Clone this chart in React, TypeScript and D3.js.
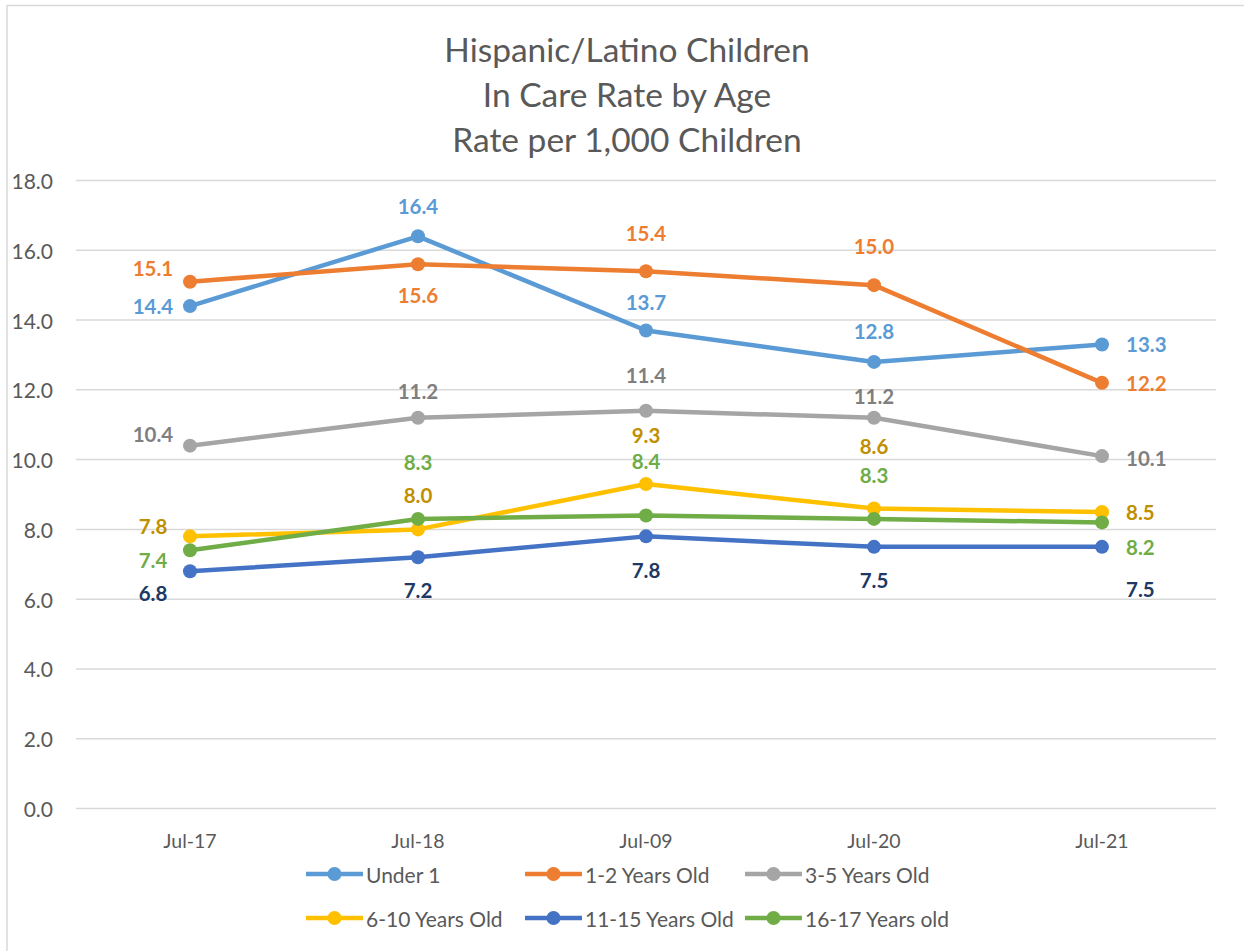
import React from "react";
import * as d3 from "d3";

const categories = ["Jul-17", "Jul-18", "Jul-09", "Jul-20", "Jul-21"];
const seriesNames = ["Under 1", "1-2 Years Old", "3-5 Years Old", "6-10 Years Old", "11-15 Years Old", "16-17 Years old"];
const under1 = [14.4, 16.4, 13.7, 12.8, 13.3];
const years1to2 = [15.1, 15.6, 15.4, 15.0, 12.2];
const years3to5 = [10.4, 11.2, 11.4, 11.2, 10.1];
const years6to10 = [7.8, 8.0, 9.3, 8.6, 8.5];
const years11to15 = [6.8, 7.2, 7.8, 7.5, 7.5];
const years16to17 = [7.4, 8.3, 8.4, 8.3, 8.2];
const yTicks = [0, 2, 4, 6, 8, 10, 12, 14, 16, 18];
const titleLines = ["Hispanic/Latino Children", "In Care Rate by Age", "Rate per 1,000 Children"];

const seriesValues = [under1, years1to2, years3to5, years6to10, years11to15, years16to17];
const lineColors = ["#5B9BD5", "#ED7D31", "#A5A5A5", "#FFC000", "#4472C4", "#70AD47"];
const labelColors = ["#5B9BD5", "#ED7D31", "#7F7F7F", "#BF9000", "#203864", "#70AD47"];
// label offsets [dx, dy] relative to the point (manual placement as in reference)
const labelOffsets: number[][][] = [
  [[-37, 0], [0, -30], [0, -29], [0, -31], [24, 0]],
  [[-37, -14], [0, 31], [0, -38], [0, -39], [24, 0]],
  [[-37, -12], [0, -27], [0, -36], [0, -22], [24, 2]],
  [[-37, -10], [0, -34], [0, -49], [0, -62], [24, 0]],
  [[-37, 22], [0, 33], [0, 34], [0, 33], [24, 42]],
  [[-37, 10], [0, -57], [0, -54], [0, -44], [24, 25]],
];

const W = 1244;
const H = 951;
const FONT = "Lato, 'Open Sans', sans-serif";

export default function App() {
  const x = d3.scaleBand<string>().domain(categories).range([76, 1216]);
  const y = d3.scaleLinear().domain([0, 18]).range([808.5, 180.5]);
  const cx = (c: string) => (x(c) as number) + x.bandwidth() / 2;
  const line = d3
    .line<number>()
    .x((_, i) => cx(categories[i]))
    .y((d) => y(d));

  const legendPos = [
    [306, 874], [525, 874], [745, 874],
    [306, 918], [525, 918], [745, 918],
  ];

  return (
    <svg width={W} height={H} style={{ position: "absolute", left: 0, top: 0, background: "#fff" }} fontFamily={FONT}>
      <rect x={0} y={0} width={W} height={H} fill="#fff" />
      <rect x={7} y={5.5} width={W + 20} height={H + 20} fill="none" stroke="#D9D9D9" strokeWidth={1.5} />
      {titleLines.map((t, i) => (
        <text key={i} x={627} y={49 + i * 45} textAnchor="middle" dominantBaseline="central" fontSize={33.5} fontWeight={400} fill="#595959">
          {t}
        </text>
      ))}
      {yTicks.map((t) => (
        <g key={t}>
          <line x1={76} x2={1216} y1={y(t)} y2={y(t)} stroke="#D9D9D9" strokeWidth={1.5} />
          <text x={53} y={y(t)} textAnchor="end" dominantBaseline="central" fontSize={21} fill="#595959">
            {t.toFixed(1)}
          </text>
        </g>
      ))}
      {categories.map((c) => (
        <text key={c} x={cx(c)} y={840} textAnchor="middle" dominantBaseline="central" fontSize={19.5} fill="#595959">
          {c}
        </text>
      ))}
      {seriesValues.map((vals, si) => (
        <g key={si}>
          <path d={line(vals) || ""} fill="none" stroke={lineColors[si]} strokeWidth={4.5} strokeLinejoin="round" />
          {vals.map((v, i) => (
            <circle key={i} cx={cx(categories[i])} cy={y(v)} r={7} fill={lineColors[si]} />
          ))}
        </g>
      ))}
      {seriesValues.map((vals, si) => (
        <g key={"l" + si}>
          {vals.map((v, i) => {
            const [dx, dy] = labelOffsets[si][i];
            const anchor = dx > 0 ? "start" : "middle";
            return (
              <text
                key={i}
                x={cx(categories[i]) + dx}
                y={y(v) + dy}
                textAnchor={anchor}
                dominantBaseline="central"
                fontSize={20.5}
                fontWeight="bold"
                fill={labelColors[si]}
              >
                {v.toFixed(1)}
              </text>
            );
          })}
        </g>
      ))}
      {seriesNames.map((n, i) => {
        const [lx, ly] = legendPos[i];
        return (
          <g key={n}>
            <line x1={lx} x2={lx + 57} y1={ly} y2={ly} stroke={lineColors[i]} strokeWidth={4.5} />
            <circle cx={lx + 28.5} cy={ly} r={7} fill={lineColors[i]} />
            <text x={lx + 60} y={ly} dominantBaseline="central" fontSize={21} fill="#595959">
              {n}
            </text>
          </g>
        );
      })}
    </svg>
  );
}
